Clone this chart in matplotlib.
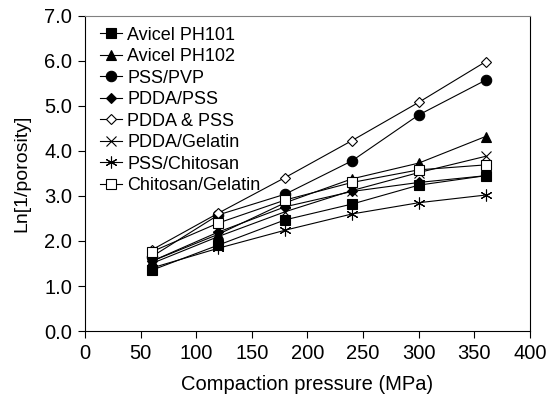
import matplotlib
matplotlib.use("Agg")
import matplotlib.pyplot as plt

plt.rcParams["font.family"] = ["Liberation Sans", "DejaVu Sans"]

PRESSURE = [60, 120, 180, 240, 300, 360]

AVICEL_101 = [1.35, 1.91, 2.47, 2.82, 3.24, 3.45]
AVICEL_102 = [1.55, 2.15, 2.85, 3.38, 3.73, 4.32]
PSS_PVP = [1.65, 2.58, 3.04, 3.78, 4.80, 5.57]
PDDA_PSS = [1.55, 2.20, 2.76, 3.10, 3.30, 3.45]
PDDA_AND_PSS = [1.80, 2.62, 3.41, 4.23, 5.08, 5.98]
PDDA_GELATIN = [1.50, 2.10, 2.65, 3.12, 3.52, 3.88]
PSS_CHITOSAN = [1.40, 1.84, 2.24, 2.60, 2.85, 3.02]
CHITOSAN_GELATIN = [1.76, 2.40, 2.91, 3.30, 3.58, 3.69]

SERIES = [
    ("Avicel PH101", AVICEL_101, "s", "black", 7),
    ("Avicel PH102", AVICEL_102, "^", "black", 7.5),
    ("PSS/PVP", PSS_PVP, "o", "black", 7.5),
    ("PDDA/PSS", PDDA_PSS, "D", "black", 5),
    ("PDDA & PSS", PDDA_AND_PSS, "D", "white", 5),
    ("PDDA/Gelatin", PDDA_GELATIN, "x", "black", 7.5),
    ("PSS/Chitosan", PSS_CHITOSAN, (6, 2, 0), "black", 8.5),
    ("Chitosan/Gelatin", CHITOSAN_GELATIN, "s", "white", 7),
]

fig = plt.figure(figsize=(5.51, 3.96), dpi=100)
ax = fig.add_axes([0.154, 0.164, 0.808, 0.796])

for label, vals, mk, face, ms in SERIES:
    ax.plot(PRESSURE, vals, color="black", linewidth=0.8, marker=mk,
            markersize=ms, markerfacecolor=face, markeredgecolor="black",
            markeredgewidth=0.8, label=label)

ax.set_xlim(0, 400)
ax.set_ylim(0, 7)
ax.set_xticks(range(0, 401, 50))
ax.set_yticks([0, 1, 2, 3, 4, 5, 6, 7])
ax.set_yticklabels([f"{v:.1f}" for v in range(8)])
ax.tick_params(direction="out", length=5, width=0.8, labelsize=14.5, pad=4)
ax.set_xlabel("Compaction pressure (MPa)", fontsize=14.5, labelpad=9)
ax.set_ylabel("Ln[1/porosity]", fontsize=14, labelpad=10)

ax.spines["top"].set_color("#808080")
for s in ["left", "bottom", "right"]:
    ax.spines[s].set_linewidth(0.8)

ax.legend(loc="upper left", frameon=False, fontsize=13, handlelength=1.2,
          handletextpad=0.3, labelspacing=0.25, borderaxespad=0.2,
          bbox_to_anchor=(0.01, 1.0))

fig.savefig("out.png", dpi=100)
